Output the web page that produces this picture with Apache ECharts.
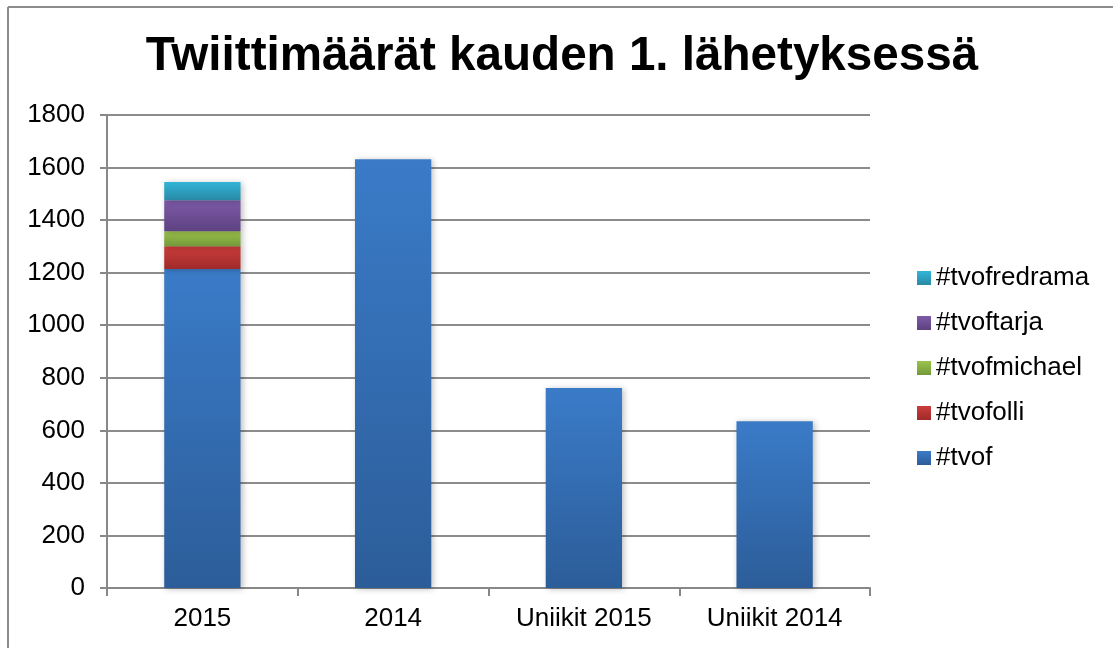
<!DOCTYPE html>
<html>
<head>
<meta charset="utf-8">
<script src="https://cdn.jsdelivr.net/npm/echarts@6/dist/echarts.min.js"></script>
<style>
  html, body { margin: 0; padding: 0; background: #fff; }
  #chart { width: 1113px; height: 648px; }
</style>
</head>
<body>
<div id="chart"></div>
<script>
// data
const categories = ['2015', '2014', 'Uniikit 2015', 'Uniikit 2014']
const tvof = [1214, 1632, 761, 635]
const tvofolli = [87, null, null, null]
const tvofmichael = [57, null, null, null]
const tvoftarja = [118, null, null, null]
const tvofredrama = [69, null, null, null]
const legendOrder = ['#tvofredrama', '#tvoftarja', '#tvofmichael', '#tvofolli', '#tvof']

const chart = echarts.init(document.getElementById('chart'))
const font = 'Liberation Sans, Arial, sans-serif'

function grad (top, bottom) {
  return new echarts.graphic.LinearGradient(0, 0, 0, 1, [
    { offset: 0, color: top },
    { offset: 1, color: bottom }
  ])
}

function barSeries (name, data, top, bottom) {
  return {
    name: name,
    type: 'bar',
    stack: 'total',
    data: data,
    barWidth: '40%',
    itemStyle: {
      color: grad(top, bottom),
      shadowColor: 'rgba(0,0,0,0.25)',
      shadowBlur: 6,
      shadowOffsetX: 2,
      shadowOffsetY: 1
    }
  }
}

chart.setOption({
  animation: false,
  textStyle: { fontFamily: font },
  title: {
    text: 'Twiittimäärät kauden 1. lähetyksessä',
    left: 557,
    textAlign: 'center',
    top: 28,
    textStyle: { fontSize: 47.6, fontWeight: 'bold', color: '#000', fontFamily: font }
  },
  graphic: [
    { type: 'line', shape: { x1: 8, y1: 7, x2: 1113, y2: 7 }, style: { stroke: '#8c8c8c', lineWidth: 2 } },
    { type: 'line', shape: { x1: 8, y1: 7, x2: 8, y2: 648 }, style: { stroke: '#8c8c8c', lineWidth: 2 } }
  ],
  legend: {
    data: legendOrder,
    orient: 'vertical',
    left: 912,
    top: 260,
    itemWidth: 14,
    itemHeight: 14,
    itemGap: 19,
    icon: 'rect',
    textStyle: { fontSize: 26, lineHeight: 26, color: '#000', fontFamily: font }
  },
  grid: { left: 107, right: 243, top: 115, bottom: 60 },
  xAxis: {
    type: 'category',
    data: categories,
    axisLine: { lineStyle: { color: '#888', width: 2 } },
    axisTick: { show: true, length: 8, lineStyle: { color: '#888', width: 2 } },
    axisLabel: { fontSize: 26, color: '#000', margin: 18 }
  },
  yAxis: {
    type: 'value',
    min: 0,
    max: 1800,
    interval: 200,
    axisLine: { show: true, lineStyle: { color: '#888', width: 2 } },
    axisTick: { show: true, length: 7, lineStyle: { color: '#888', width: 2 } },
    axisLabel: { fontSize: 26, color: '#000', margin: 22, formatter: v => String(v) },
    splitLine: { lineStyle: { color: '#8c8c8c', width: 2 } }
  },
  series: [
    barSeries('#tvof', tvof, '#3a7bc8', '#2c5d99'),
    barSeries('#tvofolli', tvofolli, '#cc3d3b', '#a02a29'),
    barSeries('#tvofmichael', tvofmichael, '#9bc34b', '#74993a'),
    barSeries('#tvoftarja', tvoftarja, '#7e5aa8', '#5d4280'),
    barSeries('#tvofredrama', tvofredrama, '#31b5d8', '#2a89a6')
  ]
})
</script>
</body>
</html>
